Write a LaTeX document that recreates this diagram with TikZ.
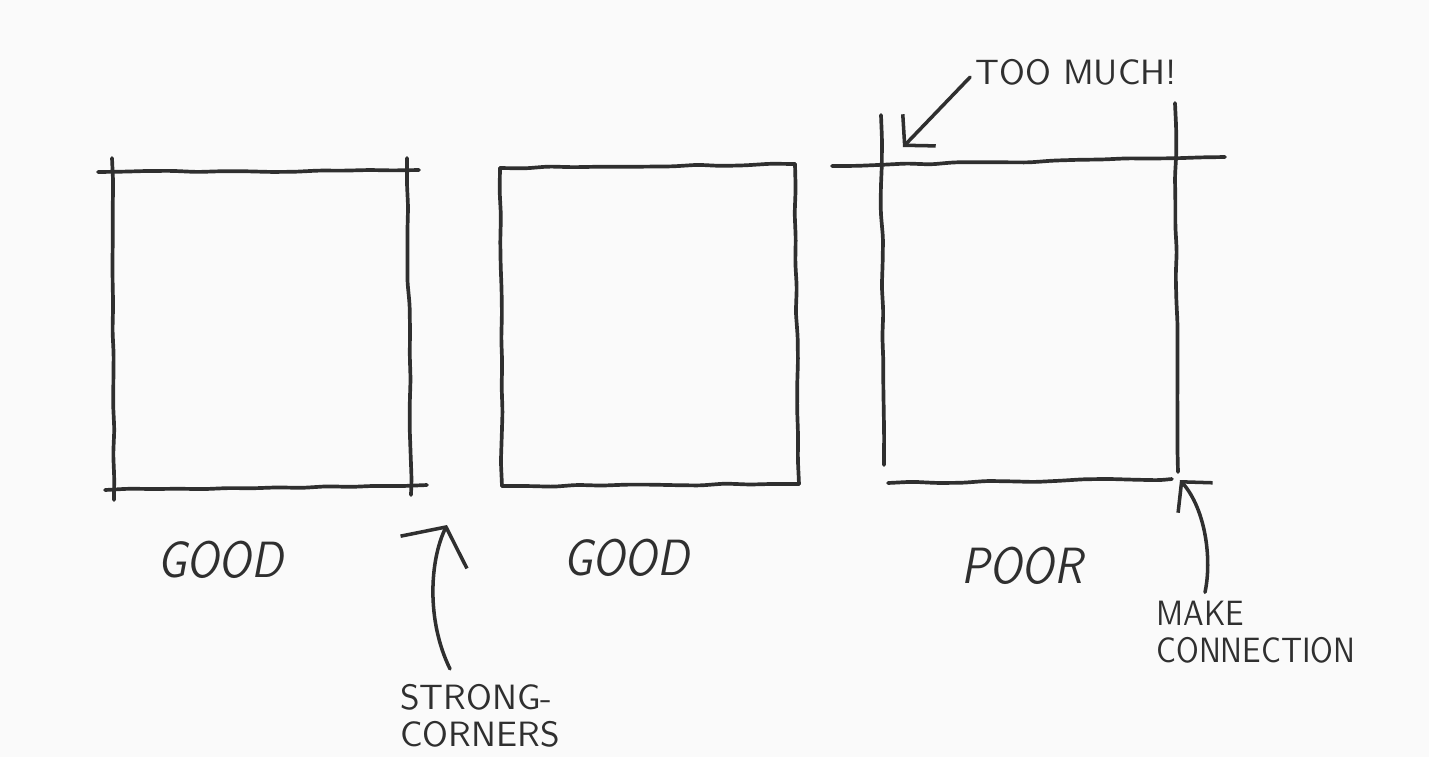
\documentclass[tikz,border=0pt]{standalone}
\usetikzlibrary{arrows.meta, decorations.pathmorphing}
\definecolor{ink}{HTML}{2F2F2F}
\definecolor{paper}{HTML}{FAFAFA}

\begin{document}
\begin{tikzpicture}[x=0.1mm, y=-0.1mm, line cap=round, line join=round, sketch/.style={draw=ink, line width=1.05pt, decorate, decoration={random steps, segment length=7pt, amplitude=0.3pt}, rounded corners=1.5pt}, pointer/.style={draw=ink, line width=1pt, -{Straight Barb[length=6pt, width=13pt]}}, bigpointer/.style={pointer, -{Straight Barb[length=8pt, width=21pt]}}, note/.style={font=\sffamily\fontsize{10}{10.5}\selectfont, text=ink, align=left, inner sep=0pt}, verdict/.style={font=\sffamily\slshape\fontsize{14.5}{16}\selectfont, text=ink, inner sep=0pt, xscale=0.88, transform shape}]

\fill[paper] (0,0) rectangle (1429,757);

\draw[sketch] (98,172) -- (419,170); \draw[sketch] (112,158) -- (114,500); \draw[sketch] (407,158) -- (411,495); \draw[sketch] (105,490) -- (427,485);
\draw[sketch] (500,168) -- (795,164); \draw[sketch] (795,164) -- (799,484); \draw[sketch] (799,484) -- (502,486); \draw[sketch] (502,486) -- (500,168);
\draw[sketch] (832,166) -- (1225,157); \draw[sketch] (881,115) -- (884,465); \draw[sketch] (1175,103) -- (1178,472); \draw[sketch] (888,483) -- (1172,479);

\node[verdict] (good1) at (220,560) {GOOD}; \node[verdict] (good2) at (626,558) {GOOD}; \node[verdict] (poor) at (1022,566) {POOR};

\node[note, anchor=west] (much) at (975,72) {TOO MUCH!}; \coordinate (muchtip) at (903,147);
\draw[pointer, shorten <=2pt] (much.west) -- (muchtip);

\node[note] (strong) at (480,716) {STRONG-\\CORNERS}; \coordinate (cornertip) at (447,525);
\draw[bigpointer] ([shift={(-30,-15)}]strong.north) .. controls (426,620) and (430,560) .. (cornertip);

\node[note, xscale=0.88, transform shape] (make) at (1256,632) {MAKE\\CONNECTION}; \coordinate (jointip) at (1180,480);
\draw[pointer] ([shift={(-51,-8)}]make.north) .. controls (1212,560) and (1206,510) .. (jointip);
\end{tikzpicture}
\end{document}
